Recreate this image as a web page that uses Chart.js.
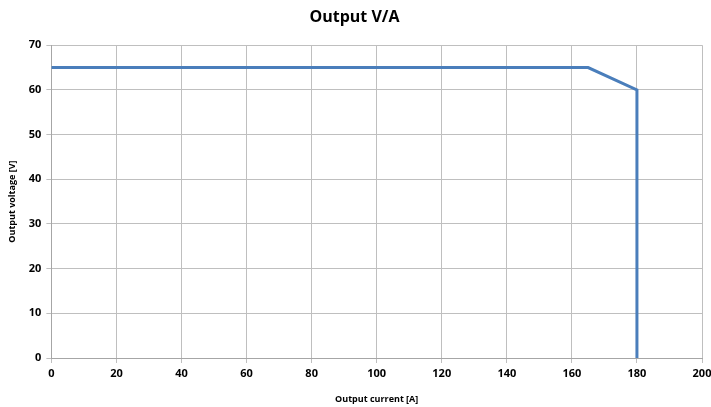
<!DOCTYPE html>
<html>
<head>
<meta charset="utf-8">
<script src="https://cdn.jsdelivr.net/npm/chart.js@4"></script>
<style>
html,body{margin:0;padding:0;background:#fff;}
#wrap{width:711px;height:407px;}
</style>
</head>
<body>
<div id="wrap"><canvas id="c" width="711" height="407"></canvas></div>
<script>
const currentA = [0, 165, 180, 180];
const voltageV = [65, 65, 60, 0];
const xTicks = [0, 20, 40, 60, 80, 100, 120, 140, 160, 180, 200];
const yTicks = [0, 10, 20, 30, 40, 50, 60, 70];

const points = currentA.map((x, i) => ({x: x, y: voltageV[i]}));
const FONT = "'Open Sans', 'Liberation Sans', sans-serif";

new Chart(document.getElementById('c'), {
  type: 'scatter',
  data: {
    datasets: [{
      data: points,
      showLine: true,
      borderColor: '#4A7EBB',
      borderWidth: 3,
      pointRadius: 0,
      fill: false,
      tension: 0
    }]
  },
  options: {
    responsive: false,
    animation: false,
    layout: {padding: {left: 7, right: 9, top: 8, bottom: 2}},
    plugins: {
      legend: {display: false},
      tooltip: {enabled: false},
      title: {
        display: true,
        text: 'Output V/A',
        color: '#000',
        font: {family: FONT, size: 16, weight: 'bold'},
        padding: {top: 0, bottom: 18}
      }
    },
    scales: {
      x: {
        type: 'linear',
        min: 0, max: 200,
        afterBuildTicks: s => { s.ticks = xTicks.map(v => ({value: v})); },
        afterFit: s => { s.paddingRight = 0; },
        ticks: {color: '#000', font: {family: FONT, size: 11, weight: 'bold'}, padding: 4, maxRotation: 0},
        grid: {color: '#BFBFBF', lineWidth: 1, tickLength: 5, drawTicks: true},
        border: {color: '#A6A6A6', width: 1},
        title: {display: true, text: 'Output current [A]', color: '#000', font: {family: FONT, size: 9, weight: 'bold'}, padding: {top: 10, bottom: 0}}
      },
      y: {
        type: 'linear',
        min: 0, max: 70,
        afterBuildTicks: s => { s.ticks = yTicks.map(v => ({value: v})); },
        ticks: {color: '#000', font: {family: FONT, size: 11, weight: 'bold'}, padding: 5},
        grid: {color: '#BFBFBF', lineWidth: 1, tickLength: 5, drawTicks: true},
        border: {color: '#A6A6A6', width: 1},
        title: {display: true, text: 'Output voltage [V]', color: '#000', font: {family: FONT, size: 9, weight: 'bold'}, padding: {top: 0, bottom: 6}}
      }
    }
  }
});
</script>
</body>
</html>
